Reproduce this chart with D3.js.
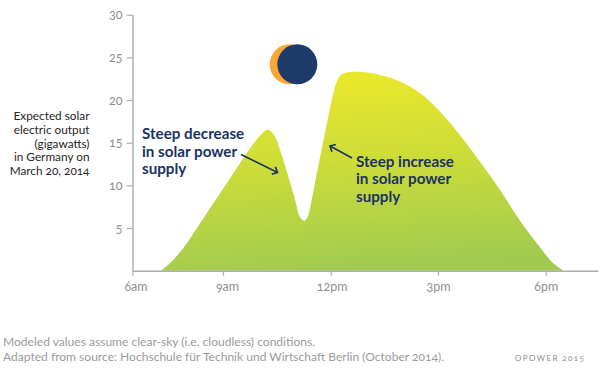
<!DOCTYPE html>
<html>
<head>
<meta charset="utf-8">
<script src="https://cdn.jsdelivr.net/npm/d3@7"></script>
<style>
  html, body { margin: 0; padding: 0; background: #fff; }
  svg { display: block; }
  text { font-family: Lato, "Open Sans", sans-serif; font-variant-numeric: oldstyle-nums; }
</style>
</head>
<body>
<svg id="chart"></svg>
<script>
// hour of day, gigawatts
const hours = [6.94, 7.24, 7.68, 8.24, 9.29, 9.66, 10.03, 10.17, 10.28, 10.45, 10.59, 10.82, 11.01, 11.14, 11.26, 11.36, 11.47, 11.65, 11.84, 12.03, 12.17, 12.29, 12.42, 12.82, 13.38, 13.94, 14.5, 15.06, 15.61, 16.17, 16.73, 17.27, 17.83, 18.21, 18.5];
const output = [0, 0.87, 2.63, 5.56, 11.42, 13.76, 15.83, 16.38, 16.5, 15.71, 14.15, 11.02, 8.29, 6.33, 5.86, 6.33, 8.29, 12.19, 16.11, 20.01, 22.16, 22.95, 23.2, 23.3, 22.94, 22.16, 20.8, 18.64, 15.91, 12.78, 9.46, 5.94, 2.81, 0.87, 0];

const xTickHours = [6, 9, 12, 15, 18];
const xTickLabels = ['6am', '9am', '12pm', '3pm', '6pm'];
const yTicks = [5, 10, 15, 20, 25, 30];

const yTitle = ['Expected solar', 'electric output', '(gigawatts)', 'in Germany on', 'March 20, 2014'];
const decreaseNote = ['Steep decrease', 'in solar power', 'supply'];
const increaseNote = ['Steep increase', 'in solar power', 'supply'];
const footnotes = [
  'Modeled values assume clear-sky (i.e. cloudless) conditions.',
  'Adapted from source: Hochschule für Technik und Wirtschaft Berlin (October 2014).',
];

const width = 600;
const height = 374;
const navy = '#1b3263';
const axisColor = '#aeaeae';
const tickTextColor = '#8f8f8f';

const svg = d3.select('#chart').attr('width', width).attr('height', height);

// the 6am tick sits closer to 9am than the rest of the axis spacing, so the scale is piecewise
const xScale = d3
  .scaleLinear()
  .domain([6, 9, 12, 15, 18, 19.46])
  .range([132.5, 223, 330.7, 438, 545.7, 598]);

const yScale = d3.scaleLinear().domain([0, 30]).range([270.7, 14.7]);

// Yellow to green fill
const defs = svg.append('defs');
const gradient = defs
  .append('linearGradient')
  .attr('id', 'solarFill')
  .attr('gradientUnits', 'userSpaceOnUse')
  .attr('x1', 330)
  .attr('y1', 72)
  .attr('x2', 345)
  .attr('y2', 270);
gradient.append('stop').attr('offset', 0).attr('stop-color', '#ece82a');
gradient.append('stop').attr('offset', 0.5).attr('stop-color', '#c9db3a');
gradient.append('stop').attr('offset', 1).attr('stop-color', '#a0cb50');

const area = d3
  .area()
  .x((d) => xScale(d))
  .y0(yScale(0))
  .y1((d, i) => yScale(output[i]))
  .curve(d3.curveCatmullRom.alpha(0.5));

svg.append('path').attr('d', area(hours)).attr('fill', 'url(#solarFill)');

// Axes
const xAxisGroup = svg
  .append('g')
  .attr('transform', `translate(0,${yScale(0)})`)
  .call(
    d3
      .axisBottom(xScale)
      .tickValues(xTickHours)
      .tickSize(5)
      .tickSizeOuter(0)
      .tickPadding(6)
      .tickFormat((d, i) => xTickLabels[i])
  );

const yAxisGroup = svg
  .append('g')
  .attr('transform', `translate(${xScale(6)},0)`)
  .call(
    d3
      .axisLeft(yScale)
      .tickValues(yTicks)
      .tickSize(6)
      .tickSizeOuter(0)
      .tickPadding(4)
  );

[xAxisGroup, yAxisGroup].forEach((axis) => {
  axis.select('.domain').attr('stroke', axisColor).attr('stroke-width', 1.5);
  axis.selectAll('.tick line').attr('stroke', axisColor).attr('stroke-width', 1.2);
  axis
    .selectAll('.tick text')
    .attr('fill', tickTextColor)
    .style('font-family', 'Lato, sans-serif')
    .style('font-size', '12.5px');
});

// first two x labels sit a little right of their ticks
xAxisGroup.selectAll('.tick text').attr('dx', (d) => (d === 6 ? 3 : d === 9 ? 4 : d === 12 ? 1 : 0));

// Eclipse icon
svg.append('circle').attr('cx', 289.7).attr('cy', 64.3).attr('r', 20).attr('fill', '#f9a635');
svg.append('circle').attr('cx', 297.3).attr('cy', 64.3).attr('r', 20).attr('fill', '#1e3a68');

const multiline = (lines, x, y, step, attrs) => {
  const text = svg.append('text').attr('x', x).attr('y', y);
  Object.keys(attrs).forEach((k) => text.attr(k, attrs[k]));
  lines.forEach((line, i) => {
    text
      .append('tspan')
      .attr('x', x)
      .attr('y', y + i * step)
      .text(line);
  });
  return text;
};

multiline(yTitle, 89.5, 120, 13.8, {
  'text-anchor': 'end',
  'font-size': 11.8,
  fill: '#262626',
});

const noteStyle = { 'font-size': 15.2, 'font-weight': 700, fill: navy };
multiline(decreaseNote, 142, 139, 17.7, noteStyle);
multiline(increaseNote, 356, 166.7, 17.7, noteStyle);

// Annotation arrows
const arrow = (x1, y1, x2, y2) => {
  const angle = Math.atan2(y2 - y1, x2 - x1);
  const head = 6;
  const g = svg
    .append('g')
    .attr('stroke', navy)
    .attr('stroke-width', 1.6)
    .attr('fill', 'none');
  g.append('line').attr('x1', x1).attr('y1', y1).attr('x2', x2).attr('y2', y2);
  const wing = (a) => [x2 - head * Math.cos(angle + a), y2 - head * Math.sin(angle + a)];
  g.append('path').attr('d', d3.line()([wing(0.75), [x2, y2], wing(-0.75)]));
};
arrow(241, 154.5, 277.5, 172.5);
arrow(352, 158, 330, 146);

// Footer
multiline(footnotes, 3, 346, 14.7, { 'font-size': 12.05, fill: '#9a9a9a' });

svg
  .append('text')
  .attr('x', 515)
  .attr('y', 361)
  .attr('font-size', 8)
  .attr('letter-spacing', 1.4)
  .attr('fill', '#8c8c8c')
  .text('OPOWER 2015');
</script>
</body>
</html>
